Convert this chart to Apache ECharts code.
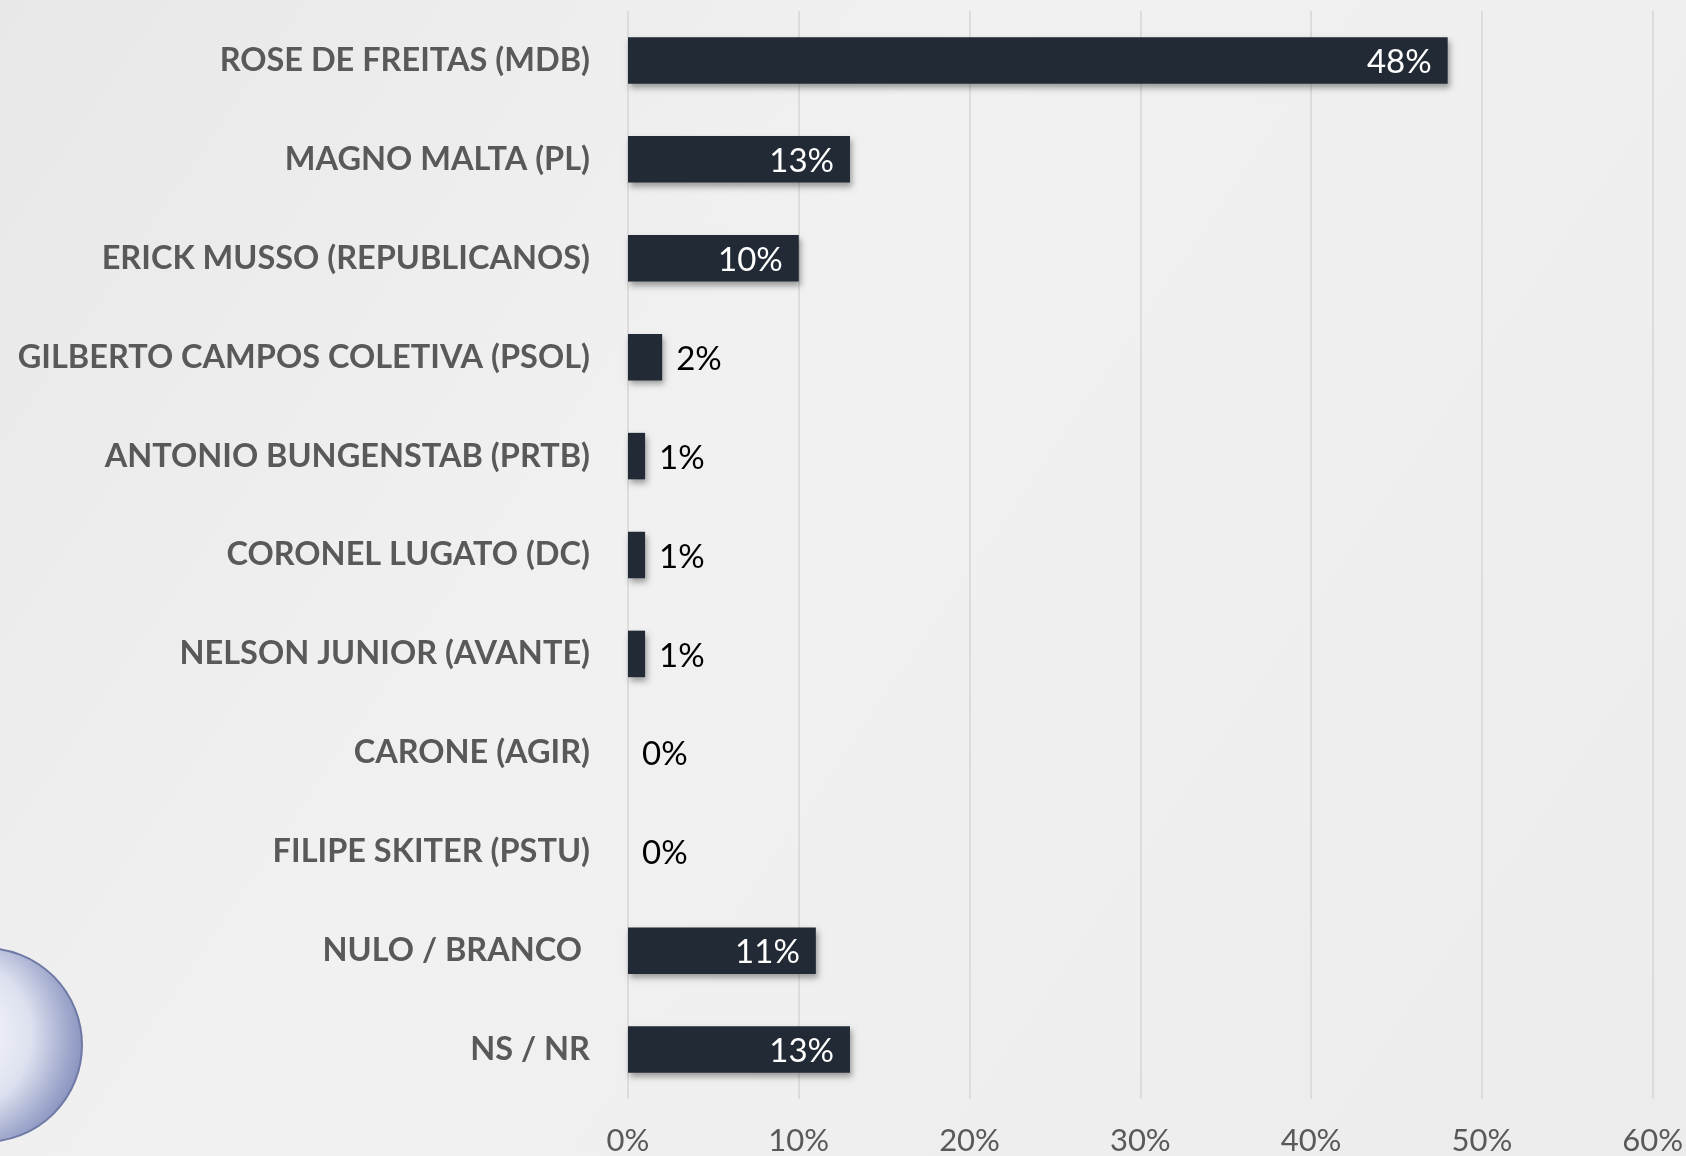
<!DOCTYPE html>
<html>
<head>
<meta charset="utf-8">
<script src="https://cdn.jsdelivr.net/npm/echarts@6/dist/echarts.min.js"></script>
<style>
html,body{margin:0;padding:0;width:1686px;height:1156px;overflow:hidden;}
#c{width:1686px;height:1156px;}
</style>
</head>
<body>
<div id="c"></div>
<script>
const categories = [
  "ROSE DE FREITAS (MDB)",
  "MAGNO MALTA (PL)",
  "ERICK MUSSO (REPUBLICANOS)",
  "GILBERTO CAMPOS COLETIVA (PSOL)",
  "ANTONIO BUNGENSTAB (PRTB)",
  "CORONEL LUGATO (DC)",
  "NELSON JUNIOR (AVANTE)",
  "CARONE (AGIR)",
  "FILIPE SKITER (PSTU)",
  "NULO / BRANCO ",
  "NS / NR"
];
const values = [48, 13, 10, 2, 1, 1, 1, 0, 0, 11, 13];
const tickLabels = ["0%", "10%", "20%", "30%", "40%", "50%", "60%"];

const FONT = "Lato";
const chart = echarts.init(document.getElementById('c'), null, {renderer: 'canvas'});
const data = values.map(v => ({
  value: v,
  label: v >= 10
    ? {position: 'insideRight', color: '#ffffff', distance: 16}
    : {position: 'right', color: '#000000', distance: 14}
}));
chart.setOption({
  backgroundColor: {
    type: 'linear', x: 0, y: 0, x2: 1, y2: 1,
    colorStops: [
      {offset: 0, color: '#e8e8e8'},
      {offset: 0.4, color: '#f1f1f1'},
      {offset: 1, color: '#ececec'}
    ]
  },
  animation: false,
  graphic: [{
    type: 'circle', silent: true, z: 0,
    shape: {cx: -15, cy: 1045, r: 97},
    style: {
      fill: {
        type: 'radial', x: 0.35, y: 0.45, r: 0.7,
        colorStops: [
          {offset: 0, color: '#ffffff'},
          {offset: 0.55, color: '#dde1ef'},
          {offset: 0.85, color: '#9aa3c9'},
          {offset: 1, color: '#7f89b5'}
        ]
      },
      stroke: '#6f79a6', lineWidth: 2
    }
  }],
  grid: {left: 628, right: 33, top: 11, bottom: 57, containLabel: false},
  xAxis: {
    type: 'value', min: 0, max: 60, interval: 10,
    axisLine: {show: false}, axisTick: {show: false},
    splitLine: {show: true, lineStyle: {color: '#d6d6d6', width: 1.5}},
    axisLabel: {
      formatter: v => tickLabels[Math.round(v / 10)],
      color: '#595959', fontFamily: FONT, fontSize: 31, margin: 26
    }
  },
  yAxis: {
    type: 'category', data: categories, inverse: true,
    axisLine: {show: false}, axisTick: {show: false},
    axisLabel: {
      color: '#595959', fontFamily: FONT, fontWeight: 'bold', fontSize: 32.5, margin: 38
    }
  },
  series: [{
    type: 'bar', data: data, barCategoryGap: '53%',
    itemStyle: {
      color: '#222a35',
      shadowBlur: 6, shadowOffsetX: 2, shadowOffsetY: 4, shadowColor: 'rgba(0,0,0,0.35)'
    },
    label: {
      show: true, fontFamily: FONT, fontSize: 33, offset: [0, 2],
      formatter: p => p.value + '%'
    }
  }]
});
</script>
</body>
</html>
